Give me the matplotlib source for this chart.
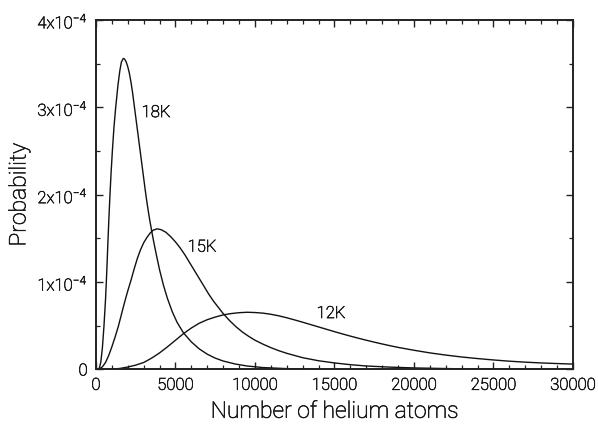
import matplotlib
matplotlib.use("Agg")
import matplotlib.pyplot as plt
import matplotlib.patheffects as pe
from matplotlib.ticker import MultipleLocator, FixedLocator

plt.rcParams["font.family"] = ["Roboto", "DejaVu Sans"]
plt.rcParams["font.weight"] = "light"
plt.rcParams["mathtext.default"] = "regular"

# Cluster-size distributions (probability per atom count, in units of 1e-4)
x_18k = [0, 100, 200, 300, 400, 500, 600, 650, 700, 760, 820, 880, 950, 1030,
         1130, 1240, 1380, 1500, 1600, 1720, 1800, 1900, 2000, 2100, 2200,
         2300, 2400, 2500, 2600, 2700, 2800, 2900, 3000, 3100, 3200, 3300,
         3400, 3500, 3600, 3800, 4000, 4250, 4500, 4800, 5100, 5500, 6000,
         6500, 7000, 7500, 8000, 8750, 9500, 10500, 12000, 14000, 17000,
         22000, 30000]
y_18k = [0, 0.0, 0.01, 0.08, 0.24, 0.49, 0.80, 1.00, 1.22, 1.50, 1.76, 2.00,
         2.25, 2.50, 2.77, 3.00, 3.25, 3.42, 3.52, 3.56, 3.553, 3.52, 3.465,
         3.39, 3.29, 3.17, 3.03, 2.89, 2.75, 2.61, 2.47, 2.33, 2.19, 2.05,
         1.92, 1.80, 1.69, 1.59, 1.49, 1.31, 1.14, 0.96, 0.81, 0.66, 0.54,
         0.42, 0.315, 0.235, 0.175, 0.13, 0.097, 0.063, 0.04, 0.022, 0.01,
         0.004, 0.001, 0.0002, 0.0]

x_15k = [0, 200, 400, 600, 800, 1000, 1200, 1400, 1600, 1800, 2000, 2200,
         2400, 2600, 2800, 3000, 3200, 3400, 3600, 3850, 4100, 4400, 4700,
         5000, 5300, 5600, 5900, 6200, 6500, 6800, 7100, 7400, 7700, 8000,
         8400, 8800, 9200, 9600, 10000, 10500, 11000, 11500, 12000, 12500,
         13000, 14000, 15000, 16000, 17000, 18500, 20000, 22500, 25000,
         27500, 30000]
y_15k = [0, 0.005, 0.03, 0.08, 0.16, 0.26, 0.37, 0.49, 0.63, 0.77, 0.90, 1.02,
         1.15, 1.27, 1.37, 1.45, 1.51, 1.56, 1.595, 1.61, 1.60, 1.57, 1.52,
         1.46, 1.39, 1.31, 1.22, 1.13, 1.04, 0.95, 0.86, 0.78, 0.71, 0.64,
         0.56, 0.49, 0.43, 0.38, 0.335, 0.29, 0.25, 0.215, 0.185, 0.16,
         0.135, 0.10, 0.075, 0.055, 0.04, 0.027, 0.018, 0.009, 0.005,
         0.0025, 0.0013]

x_12k = [0, 500, 1000, 1500, 2000, 2500, 3000, 3500, 4000, 4500, 5000, 5500,
         6000, 6500, 7000, 7500, 8000, 8500, 9000, 9500, 10000, 10500, 11000,
         11500, 12000, 12500, 13000, 13500, 14000, 14500, 15000, 15500, 16000,
         16500, 17000, 17500, 18000, 18500, 19000, 20000, 21000, 22000, 23000,
         24000, 25000, 26000, 27000, 28000, 29000, 30000]
y_12k = [0, 0.0005, 0.004, 0.012, 0.028, 0.05, 0.08, 0.13, 0.19, 0.26, 0.335,
         0.41, 0.475, 0.53, 0.57, 0.60, 0.625, 0.64, 0.65, 0.655, 0.652,
         0.645, 0.632, 0.614, 0.592, 0.567, 0.541, 0.514, 0.487, 0.46, 0.433,
         0.407, 0.382, 0.358, 0.335, 0.313, 0.292, 0.272, 0.253, 0.22, 0.19,
         0.165, 0.143, 0.125, 0.109, 0.095, 0.084, 0.075, 0.068, 0.062]

scale = 1e-4
curve_labels = ["18K", "15K", "12K"]
label_x = [3770, 6670, 14780]
label_y = [2.94, 1.40, 0.64]

y_ticks = [0, 1, 2, 3, 4]
y_tick_labels = ["0", "1x10$^{-4}$", "2x10$^{-4}$", "3x10$^{-4}$", "4x10$^{-4}$"]
x_ticks = [0, 5000, 10000, 15000, 20000, 25000, 30000]

text_color = "#1a1a1a"
thicken = [pe.withStroke(linewidth=0.45, foreground=text_color)]

fig = plt.figure(figsize=(5.98, 4.28), dpi=100)
ax = fig.add_axes([0.1605, 0.1367, 0.7977, 0.8166])

for xs, ys in [(x_18k, y_18k), (x_15k, y_15k), (x_12k, y_12k)]:
    ax.plot(xs, [v * scale for v in ys], color="#111111", lw=1.0)

for lab, lx, ly in zip(curve_labels, label_x, label_y):
    ax.text(lx, ly * scale, lab, ha="center", va="center", fontsize=12,
            color=text_color, fontweight="light", path_effects=thicken)

ax.set_xlim(0, 30000)
ax.set_ylim(0, 4 * scale)
ax.xaxis.set_major_locator(FixedLocator(x_ticks))
ax.xaxis.set_minor_locator(MultipleLocator(1000))
ax.yaxis.set_major_locator(FixedLocator([t * scale for t in y_ticks]))
ax.yaxis.set_minor_locator(MultipleLocator(0.5 * scale))
ax.set_xticklabels([str(t) for t in x_ticks])
ax.set_yticklabels(y_tick_labels)

ax.tick_params(which="both", direction="in", top=True, right=True,
               labelsize=12, labelcolor=text_color, color="#222222")
ax.tick_params(which="major", length=5, width=1.0, pad=6)
ax.tick_params(which="minor", length=3, width=0.9)
for lbl in ax.get_xticklabels() + ax.get_yticklabels():
    lbl.set_fontweight("light")
    lbl.set_path_effects(thicken)
for sp in ax.spines.values():
    sp.set_linewidth(1.4)
    sp.set_color("#222222")

ax.set_xlabel("Number of helium atoms", fontsize=16.5, color=text_color,
              labelpad=5, fontweight="light", path_effects=thicken)
ax.set_ylabel("Probability", fontsize=16.5, color=text_color, labelpad=5,
              fontweight="light", path_effects=thicken)

fig.savefig("out.png", dpi=100)
